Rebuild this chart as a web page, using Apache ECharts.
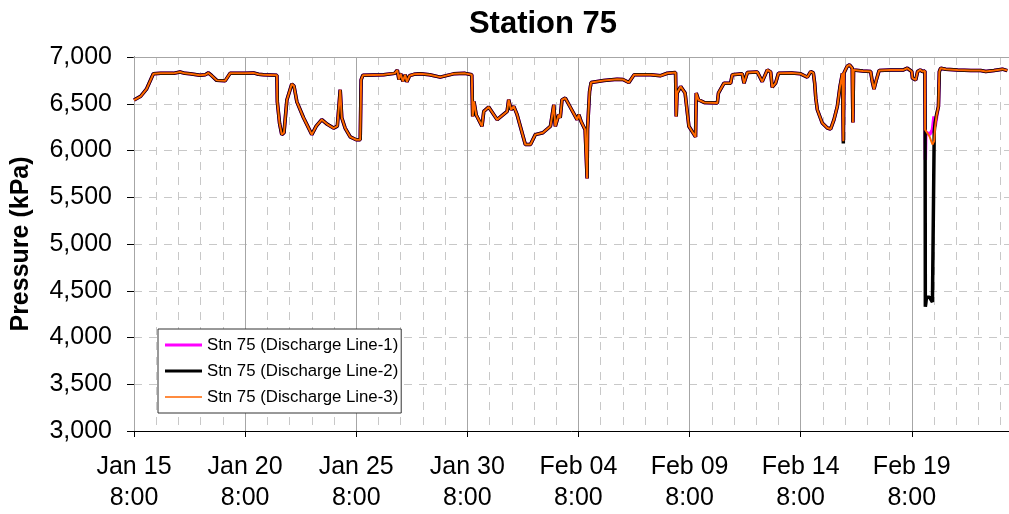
<!DOCTYPE html>
<html>
<head>
<meta charset="utf-8">
<title>Station 75</title>
<script src="https://cdn.jsdelivr.net/npm/echarts@6/dist/echarts.min.js"></script>
<style>
  html, body { margin: 0; padding: 0; background: #ffffff; }
  #chart { width: 1009px; height: 514px; }
</style>
</head>
<body>
<div id="chart"></div>
<script>
// Time of each reading, in days after Jan 15 8:00
const times = [
  0.00, 0.30, 0.57, 0.87, 1.20, 1.77, 2.07, 2.30, 2.52, 2.97,
  3.20, 3.35, 3.50, 3.72, 4.10, 4.32, 5.00, 5.38, 5.60, 5.83,
  6.43, 6.45, 6.55, 6.65, 6.75, 6.88, 7.10, 7.20, 7.33, 7.63,
  8.00, 8.20, 8.45, 8.70, 8.98, 9.15, 9.28, 9.35, 9.50, 9.73,
  10.00, 10.18, 10.22, 10.30, 11.23, 11.73, 11.85, 11.92, 12.00, 12.10,
  12.20, 12.28, 12.40, 12.60, 12.88, 13.30, 13.78, 14.38, 14.90, 15.20,
  15.24, 15.30, 15.40, 15.66, 15.74, 15.96, 16.34, 16.79, 16.86, 16.97,
  17.09, 17.24, 17.61, 17.84, 18.06, 18.40, 18.74, 18.89, 18.96, 19.11,
  19.18, 19.26, 19.41, 19.64, 19.94, 20.02, 20.12, 20.30, 20.37, 20.39,
  20.41, 20.50, 20.57, 21.14, 21.74, 22.00, 22.27, 22.50, 23.25, 23.70,
  24.00, 24.37, 24.40, 24.44, 24.60, 24.80, 24.97, 25.27, 25.30, 25.40,
  25.65, 26.25, 26.30, 26.55, 26.85, 26.92, 27.37, 27.45, 27.60, 28.05,
  28.27, 28.50, 28.65, 28.72, 28.87, 29.00, 29.60, 30.00, 30.30, 30.45,
  30.57, 30.63, 30.68, 30.75, 30.97, 31.20, 31.35, 31.50, 31.65, 31.77,
  31.88, 31.92, 31.95, 32.10, 32.20, 32.32, 32.35, 32.38, 32.80, 33.15,
  33.22, 33.30, 33.40, 33.53, 34.05, 34.60, 34.80, 35.00, 35.03, 35.18,
  35.26, 35.38, 35.48, 35.59, 35.60, 35.61, 35.63, 35.66, 35.80, 35.93,
  36.00, 36.01, 36.05, 36.12, 36.20, 36.24, 36.30, 36.53, 37.06, 37.66,
  38.10, 38.33, 38.70, 39.08, 39.30
];

// Discharge Line-1 pressure (kPa)
const line1 = [
  6540, 6580, 6660, 6820, 6825, 6825, 6840, 6825, 6820, 6805,
  6810, 6830, 6800, 6750, 6745, 6825, 6825, 6830, 6815, 6810,
  6805, 6520, 6290, 6170, 6190, 6540, 6710, 6690, 6520, 6350,
  6170, 6260, 6330, 6280, 6240, 6260, 6650, 6350, 6240, 6145,
  6115, 6115, 6755, 6805, 6810, 6825, 6860, 6760, 6820, 6740,
  6810, 6735, 6800, 6815, 6820, 6810, 6785, 6820, 6825, 6810,
  6365, 6525, 6380, 6260, 6418, 6465, 6330, 6418, 6543, 6436,
  6472, 6383, 6064, 6064, 6170, 6190, 6259, 6489, 6259, 6383,
  6350, 6543, 6560, 6460, 6330, 6383, 6310, 6223, 6223, 5700,
  6230, 6631, 6727, 6748, 6762, 6760, 6727, 6809, 6810, 6800,
  6826, 6835, 6365, 6614, 6684, 6614, 6259, 6145, 6614, 6543,
  6514, 6507, 6614, 6720, 6720, 6809, 6820, 6720, 6833, 6840,
  6737, 6862, 6840, 6677, 6720, 6826, 6830, 6820, 6784, 6844,
  6830, 6720, 6560, 6436, 6294, 6241, 6230, 6330, 6472, 6684,
  6826, 6099, 6830, 6904, 6915, 6880, 6300, 6860, 6850, 6844,
  6740, 6656, 6750, 6855, 6862, 6860, 6880, 6845, 6773, 6755,
  6844, 6862, 6845, 6850, 6223, 5900, 6200, 6210, 6170, 6220,
  6365, 6300, 6260, 6365, 6472, 6844, 6880, 6870, 6862, 6855,
  6855, 6844, 6855, 6870, 6855
];

// Discharge Line-2 pressure (kPa)
const line2 = [
  6540, 6580, 6660, 6820, 6825, 6825, 6840, 6825, 6820, 6805,
  6810, 6830, 6800, 6750, 6745, 6825, 6825, 6830, 6815, 6810,
  6805, 6520, 6290, 6170, 6190, 6540, 6710, 6690, 6520, 6350,
  6170, 6260, 6330, 6280, 6240, 6260, 6650, 6350, 6240, 6145,
  6115, 6115, 6755, 6805, 6810, 6825, 6860, 6760, 6820, 6740,
  6810, 6735, 6800, 6815, 6820, 6810, 6785, 6820, 6825, 6810,
  6365, 6525, 6380, 6260, 6418, 6465, 6330, 6418, 6543, 6436,
  6472, 6383, 6064, 6064, 6170, 6190, 6259, 6489, 6259, 6383,
  6350, 6543, 6560, 6460, 6330, 6383, 6310, 6223, 6223, 5700,
  6230, 6631, 6727, 6748, 6762, 6760, 6727, 6809, 6810, 6800,
  6826, 6835, 6365, 6614, 6684, 6614, 6259, 6145, 6614, 6543,
  6514, 6507, 6614, 6720, 6720, 6809, 6820, 6720, 6833, 6840,
  6737, 6862, 6840, 6677, 6720, 6826, 6830, 6820, 6784, 6844,
  6830, 6720, 6560, 6436, 6294, 6241, 6230, 6330, 6472, 6684,
  6826, 6075, 6830, 6904, 6915, 6880, 6300, 6860, 6850, 6844,
  6740, 6656, 6750, 6855, 6862, 6860, 6880, 6845, 6773, 6755,
  6844, 6862, 6845, 6850, 6223, 4330, 4360, 4430, 4430, 4380,
  4360, 6200, 6300, 6390, 6472, 6844, 6880, 6870, 6862, 6855,
  6855, 6844, 6855, 6870, 6855
];

// Discharge Line-3 pressure (kPa)
const line3 = [
  6540, 6580, 6660, 6820, 6825, 6825, 6840, 6825, 6820, 6805,
  6810, 6830, 6800, 6750, 6745, 6825, 6825, 6830, 6815, 6810,
  6805, 6520, 6290, 6170, 6190, 6540, 6710, 6690, 6520, 6350,
  6170, 6260, 6330, 6280, 6240, 6260, 6650, 6350, 6240, 6145,
  6115, 6115, 6755, 6805, 6810, 6825, 6860, 6760, 6820, 6740,
  6810, 6735, 6800, 6815, 6820, 6810, 6785, 6820, 6825, 6810,
  6365, 6525, 6380, 6260, 6418, 6465, 6330, 6418, 6543, 6436,
  6472, 6383, 6064, 6064, 6170, 6190, 6259, 6489, 6259, 6383,
  6350, 6543, 6560, 6460, 6330, 6383, 6310, 6223, 6223, 5700,
  6230, 6631, 6727, 6748, 6762, 6760, 6727, 6809, 6810, 6800,
  6826, 6835, 6365, 6614, 6684, 6614, 6259, 6145, 6614, 6543,
  6514, 6507, 6614, 6720, 6720, 6809, 6820, 6720, 6833, 6840,
  6737, 6862, 6840, 6677, 6720, 6826, 6830, 6820, 6784, 6844,
  6830, 6720, 6560, 6436, 6294, 6241, 6230, 6330, 6472, 6684,
  6826, 6099, 6830, 6904, 6915, 6880, 6300, 6860, 6850, 6844,
  6740, 6656, 6750, 6855, 6862, 6860, 6880, 6845, 6773, 6755,
  6844, 6862, 6845, 6850, 6223, 6215, 6210, 6200, 6150, 6064,
  6050, 6100, 6250, 6380, 6472, 6844, 6880, 6870, 6862, 6855,
  6855, 6844, 6855, 6870, 6855
];

// Date labels under every fifth day
const tickLabels = [
  'Jan 15\n8:00', 'Jan 20\n8:00', 'Jan 25\n8:00', 'Jan 30\n8:00',
  'Feb 04\n8:00', 'Feb 09\n8:00', 'Feb 14\n8:00', 'Feb 19\n8:00'
];

const seriesNames = [
  'Stn 75 (Discharge Line-1)',
  'Stn 75 (Discharge Line-2)',
  'Stn 75 (Discharge Line-3)'
];

// Visible span of the time axis, in days
const X_MAX = 39.375;

const FONT = '"Liberation Sans", Arial, Helvetica, sans-serif';

function pairs(values) {
  return times.map((t, i) => [t, values[i]]);
}

// Legend swatches: a bar of the given thickness centred in a 37x14 box
function swatch(thickness) {
  const top = (14 - thickness) / 2;
  return 'path://M0,0L0.01,0M0,14L0.01,14M0,' + top + 'H37V' + (top + thickness) + 'H0Z';
}

const chart = echarts.init(document.getElementById('chart'), null, { renderer: 'canvas' });

chart.setOption({
  animation: false,
  backgroundColor: '#ffffff',
  graphic: [{
    type: 'text',
    x: 543,
    y: 24,
    style: {
      text: 'Station 75',
      font: 'bold 31px ' + FONT,
      fill: '#000000',
      textAlign: 'center',
      textVerticalAlign: 'middle'
    }
  }],
  grid: {
    left: 134,
    top: 57,
    right: 0,
    bottom: 81
  },
  legend: {
    orient: 'vertical',
    left: 158,
    top: 329,
    padding: [6, 3, 6, 7],
    itemGap: 6,
    itemWidth: 37,
    itemHeight: 14,
    backgroundColor: '#ffffff',
    borderColor: '#333333',
    borderWidth: 1,
    borderRadius: 0,
    itemStyle: { borderWidth: 0 },
    textStyle: { fontFamily: FONT, fontSize: 16.8, color: '#000000', lineHeight: 20 },
    data: [
      { name: seriesNames[0], icon: swatch(3) },
      { name: seriesNames[1], icon: swatch(3) },
      { name: seriesNames[2], icon: swatch(1.5) }
    ]
  },
  xAxis: [
    {
      // Dated axis: a solid grid line every five days
      type: 'value',
      min: 0,
      max: X_MAX,
      interval: 5,
      position: 'bottom',
      axisLine: { show: true, onZero: false, lineStyle: { color: '#000000', width: 1 } },
      axisTick: { show: true, length: 6, lineStyle: { color: '#000000' } },
      axisLabel: {
        fontFamily: FONT,
        fontSize: 25,
        color: '#000000',
        lineHeight: 31,
        margin: 21,
        showMaxLabel: false,
        formatter: function (v) {
          const k = Math.round(v / 5);
          return Math.abs(v - k * 5) < 1e-6 && tickLabels[k] ? tickLabels[k] : '';
        }
      },
      splitLine: { show: true, lineStyle: { color: '#a6a6a6', width: 1 } },
      z: 1
    },
    {
      // Daily dashed grid lines (skipping the dated ones)
      type: 'value',
      min: 0,
      max: X_MAX,
      interval: 1,
      position: 'bottom',
      axisLine: { show: false },
      axisTick: { show: false },
      axisLabel: { show: false },
      splitLine: {
        show: true,
        lineStyle: {
          color: ['rgba(0,0,0,0)', '#c8c8c8', '#c8c8c8', '#c8c8c8', '#c8c8c8'],
          width: 1,
          type: [8, 7]
        }
      },
      z: 0
    },
    {
      // Plain top edge of the plot area
      type: 'value',
      min: 0,
      max: X_MAX,
      interval: 5,
      position: 'top',
      axisLine: { show: true, onZero: false, lineStyle: { color: '#a6a6a6', width: 1 } },
      axisTick: { show: false },
      axisLabel: { show: false },
      splitLine: { show: false },
      z: 1
    }
  ],
  yAxis: {
    type: 'value',
    min: 3000,
    max: 7000,
    interval: 500,
    name: 'Pressure (kPa)',
    nameLocation: 'middle',
    nameGap: 100,
    nameTextStyle: { fontFamily: FONT, fontSize: 25, fontWeight: 'bold', color: '#000000' },
    axisLine: { show: true, lineStyle: { color: '#000000', width: 1 } },
    axisTick: { show: true, length: 7, lineStyle: { color: '#000000' } },
    axisLabel: {
      fontFamily: FONT,
      fontSize: 25,
      color: '#000000',
      margin: 22,
      formatter: function (v) { return v.toLocaleString('en-US'); }
    },
    splitLine: { show: true, lineStyle: { color: '#c8c8c8', width: 1, type: [8, 7] } }
  },
  series: [
    {
      name: seriesNames[0],
      type: 'line',
      xAxisIndex: 0,
      data: pairs(line1),
      symbol: 'none',
      color: '#ff00ff',
      lineStyle: { color: '#ff00ff', width: 3.5 },
      z: 2
    },
    {
      name: seriesNames[1],
      type: 'line',
      xAxisIndex: 0,
      data: pairs(line2),
      symbol: 'none',
      color: '#000000',
      lineStyle: { color: '#000000', width: 3.5 },
      z: 3
    },
    {
      name: seriesNames[2],
      type: 'line',
      xAxisIndex: 0,
      data: pairs(line3),
      symbol: 'none',
      color: '#ff6600',
      lineStyle: { color: '#ff6600', width: 2 },
      z: 4
    }
  ]
});
</script>
</body>
</html>
